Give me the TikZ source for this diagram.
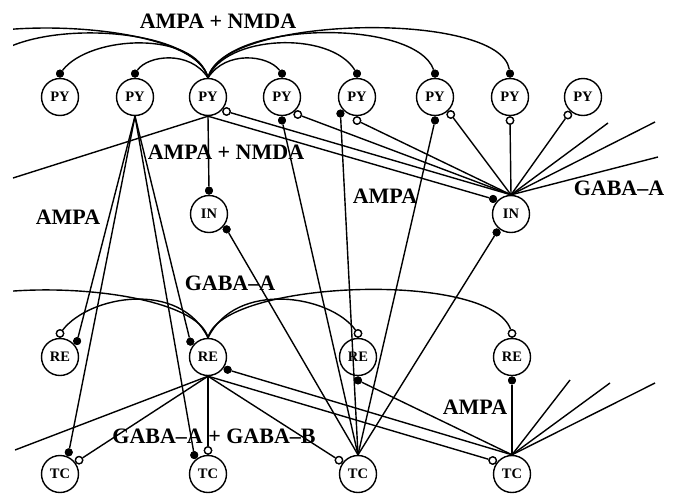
\documentclass[tikz,border=0pt]{standalone}
\usepackage{fontspec}
\setmainfont{Liberation Serif}
\begin{document}
\begin{tikzpicture}[x=1pt,y=-1pt,
  neuron/.style={circle,draw,line width=1.4pt,minimum size=37pt,inner sep=0pt,font=\fontsize{14.5}{16}\selectfont\bfseries},
  fdot/.style={circle,fill=black,inner sep=0pt,minimum size=8pt},
  odot/.style={circle,draw,fill=white,line width=1.2pt,inner sep=0pt,minimum size=7.5pt},
  lbl/.style={font=\fontsize{22}{26}\selectfont\bfseries,inner sep=0pt},
  conn/.style={line width=1.4pt}]
\useasboundingbox (0,0) rectangle (677,493);
% neurons
\node[neuron] (PY1) at (60,97) {PY};
\node[neuron] (PY2) at (135,97) {PY};
\node[neuron] (PY3) at (208,97) {PY};
\node[neuron] (PY4) at (282,97) {PY};
\node[neuron] (PY5) at (357,97) {PY};
\node[neuron] (PY6) at (435,97) {PY};
\node[neuron] (PY7) at (510,97) {PY};
\node[neuron] (PY8) at (583,97) {PY};
\node[neuron] (IN1) at (209,214) {IN};
\node[neuron] (IN2) at (511,214) {IN};
\node[neuron] (RE1) at (60,357) {RE};
\node[neuron] (RE2) at (208,357) {RE};
\node[neuron] (RE3) at (358,357) {RE};
\node[neuron] (RE4) at (512,357) {RE};
\node[neuron] (TC1) at (60,474) {TC};
\node[neuron] (TC2) at (208,474) {TC};
\node[neuron] (TC3) at (358,474) {TC};
\node[neuron] (TC4) at (512,474) {TC};
% synapse markers (placement only)
\path
  node[fdot,anchor=-90] (fPY1t) at (PY1.90) {}
  node[fdot,anchor=-90] (fPY2t) at (PY2.90) {}
  node[fdot,anchor=-90] (fPY4t) at (PY4.90) {}
  node[fdot,anchor=-90] (fPY5t) at (PY5.90) {}
  node[fdot,anchor=-90] (fPY6t) at (PY6.90) {}
  node[fdot,anchor=-90] (fPY7t) at (PY7.90) {}
  node[odot,anchor=142] (oPY3) at (PY3.-38) {}
  node[odot,anchor=132] (oPY4) at (PY4.-48) {}
  node[fdot,anchor=90] (fPY4b) at (PY4.-90) {}
  node[fdot,anchor=45] (fPY5) at (PY5.-135) {}
  node[odot,anchor=90] (oPY5) at (PY5.-90) {}
  node[fdot,anchor=90] (fPY6) at (PY6.-90) {}
  node[odot,anchor=132] (oPY6) at (PY6.-48) {}
  node[odot,anchor=90] (oPY7) at (PY7.-90) {}
  node[odot,anchor=50] (oPY8) at (PY8.-130) {}
  node[fdot,anchor=-90] (fIN1t) at (IN1.90) {}
  node[fdot,anchor=139] (fIN1r) at (IN1.-41) {}
  node[fdot,anchor=-40] (fIN2l) at (IN2.140) {}
  node[fdot,anchor=52] (fIN2b) at (IN2.-128) {}
  node[odot,anchor=-90] (oRE1) at (RE1.90) {}
  node[fdot,anchor=-137] (fRE1) at (RE1.43) {}
  node[fdot,anchor=-41] (fRE2l) at (RE2.139) {}
  node[fdot,anchor=147] (fRE2r) at (RE2.-33) {}
  node[odot,anchor=-90] (oRE3) at (RE3.90) {}
  node[fdot,anchor=90] (fRE3) at (RE3.-90) {}
  node[odot,anchor=-90] (oRE4) at (RE4.90) {}
  node[fdot,anchor=90] (fRE4) at (RE4.-90) {}
  node[fdot,anchor=-112] (fTC1) at (TC1.68) {}
  node[odot,anchor=-144] (oTC1) at (TC1.36) {}
  node[fdot,anchor=-54] (fTC2) at (TC2.126) {}
  node[odot,anchor=-90] (oTC2) at (TC2.90) {}
  node[odot,anchor=-36] (oTC3) at (TC3.144) {}
  node[odot,anchor=-35] (oTC4) at (TC4.145) {};
% free ends
\coordinate (eA) at (13,178);
\coordinate (eB) at (608,123);
\coordinate (eC) at (655,122);
\coordinate (eD) at (658,157);
\coordinate (eE) at (570,380);
\coordinate (eF) at (610,383);
\coordinate (eG) at (655,383);
\coordinate (eH) at (15,450);
\coordinate (vPYa) at (-94,72);
\coordinate (vPYb) at (-19,72);
\coordinate (vRE) at (-96,333);
\begin{scope}[conn]
% PY -> PY (AMPA + NMDA)
\draw (PY3.north) .. controls (195,30) and (90,35) .. (fPY1t);
\draw (PY3.north) .. controls (190,50) and (148,55) .. (fPY2t);
\draw (PY3.north) .. controls (226,50) and (268,55) .. (fPY4t);
\draw (PY3.north) .. controls (225,35) and (330,30) .. (fPY5t);
\draw (PY3.north) .. controls (225,20) and (415,18) .. (fPY6t);
\draw (PY3.north) .. controls (222,15) and (500,10) .. (fPY7t);
\begin{scope}
\clip (13,0) rectangle (660,493);
\draw (PY3.north) .. controls (194,15) and (-84,10) .. (vPYa);
\draw (PY3.north) .. controls (191,20) and (1,18) .. (vPYb);
\draw (RE2.north) .. controls (194,280) and (-74,270) .. (vRE);
\end{scope}
% PY -> IN
\draw (PY3.south) -- (fIN1t);
\draw (PY3.south) -- (fIN2l);
\draw (PY3.south) -- (eA);
% IN -> PY (GABA-A)
\draw (IN2.north) -- (oPY3);
\draw (IN2.north) -- (oPY4);
\draw (IN2.north) -- (oPY5);
\draw (IN2.north) -- (oPY6);
\draw (IN2.north) -- (oPY7);
\draw (IN2.north) -- (oPY8);
\draw (IN2.north) -- (eB);
\draw (IN2.north) -- (eC);
\draw (IN2.north) -- (eD);
% PY -> RE, TC
\draw (PY2.south) -- (fRE1);
\draw (PY2.south) -- (fTC1);
\draw (PY2.south) -- (fRE2l);
\draw (PY2.south) -- (fTC2);
% TC -> PY, IN
\draw (TC3.north) -- (fPY4b);
\draw (TC3.north) -- (fPY5);
\draw (TC3.north) -- (fPY6);
\draw (TC3.north) -- (fIN1r);
\draw (TC3.north) -- (fIN2b);
% TC -> RE (AMPA)
\draw (TC4.north) -- (fRE4);
\draw (TC4.north) -- (fRE3);
\draw (TC4.north) -- (fRE2r);
\draw (TC4.north) -- (eE);
\draw (TC4.north) -- (eF);
\draw (TC4.north) -- (eG);
% RE -> RE (GABA-A)
\draw (RE2.north) .. controls (180,280) and (90,295) .. (oRE1);
\draw (RE2.north) .. controls (236,280) and (330,295) .. (oRE3);
\draw (RE2.north) .. controls (222,280) and (490,270) .. (oRE4);
% RE -> TC (GABA-A + GABA-B)
\draw (RE2.south) -- (oTC1);
\draw (RE2.south) -- (oTC2);
\draw (RE2.south) -- (oTC3);
\draw (RE2.south) -- (oTC4);
\draw (RE2.south) -- (eH);
\end{scope}
% redraw markers on top
\foreach \d in {fPY1t,fPY2t,fPY4t,fPY5t,fPY6t,fPY7t,fPY4b,fPY5,fPY6,fIN1t,fIN1r,fIN2l,fIN2b,fRE1,fRE2l,fRE2r,fRE3,fRE4,fTC1,fTC2}
  \fill (\d) circle (4pt);
\foreach \d in {oPY3,oPY4,oPY5,oPY6,oPY7,oPY8,oRE1,oRE3,oRE4,oTC1,oTC2,oTC3,oTC4}
  \filldraw[fill=white,line width=1.2pt] (\d) circle (3.6pt);
% labels
\node[lbl] (L1) at (218,21) {AMPA + NMDA};
\node[lbl] (L2) at (226,152) {AMPA + NMDA};
\node[lbl] (L3) at (68,217) {AMPA};
\node[lbl] (L4) at (385,196) {AMPA};
\node[lbl] (L5) at (619,188) {GABA--A};
\node[lbl] (L6) at (230,283) {GABA--A};
\node[lbl] (L7) at (214,436) {GABA--A + GABA--B};
\node[lbl] (L8) at (475,407) {AMPA};
\end{tikzpicture}
\end{document}
